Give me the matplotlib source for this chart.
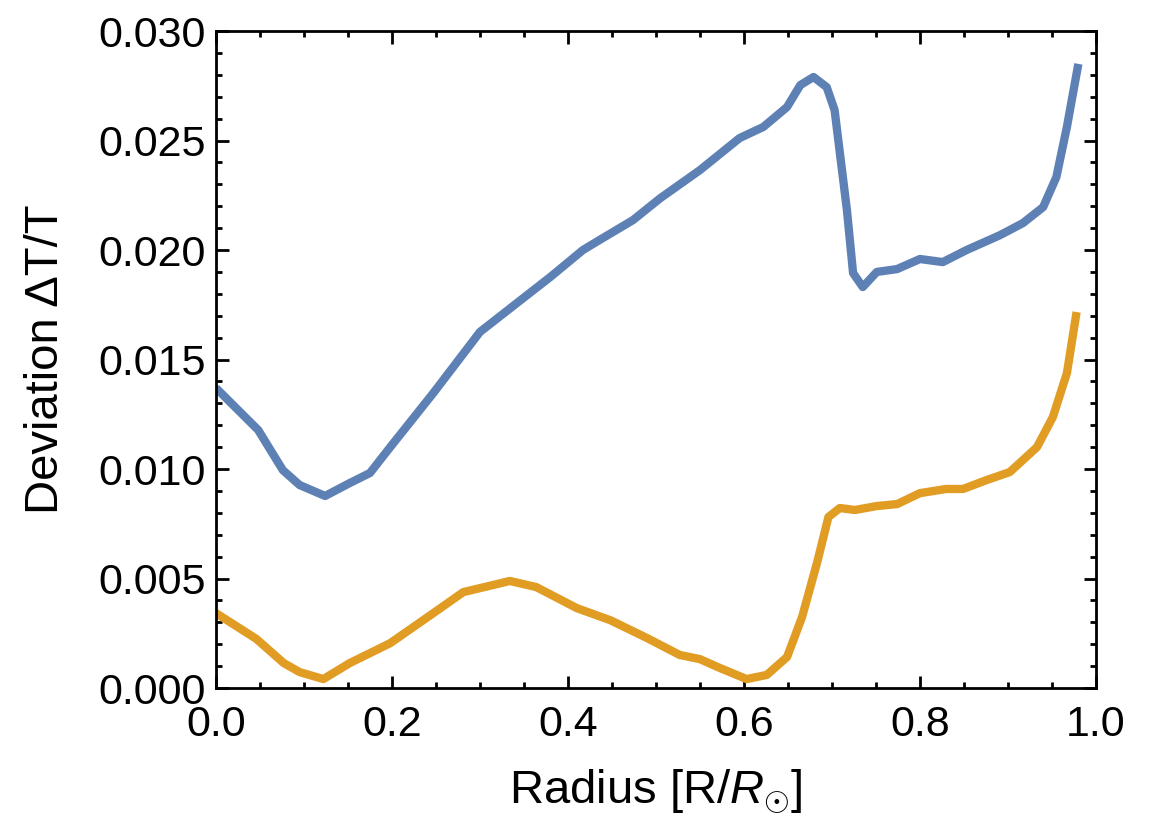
import numpy as np
import matplotlib
matplotlib.use('Agg')
import matplotlib.pyplot as plt
from matplotlib.ticker import MultipleLocator, FormatStrFormatter

# Blue curve (upper)
r_blue = [0.0, 0.048, 0.076, 0.095, 0.124, 0.152, 0.175, 0.198, 0.247, 0.30, 0.342, 0.38,
          0.417, 0.436, 0.474, 0.505, 0.55, 0.595, 0.622, 0.649, 0.664, 0.679, 0.694, 0.703,
          0.709, 0.717, 0.724, 0.735, 0.751, 0.774, 0.80, 0.826, 0.853, 0.891, 0.917, 0.94,
          0.955, 0.967, 0.98]
dev_blue = [0.0137, 0.01178, 0.00995, 0.00927, 0.00877, 0.00936, 0.00982, 0.0110, 0.01347,
            0.01626, 0.01758, 0.01877, 0.0200, 0.02046, 0.02137, 0.02237, 0.02365, 0.02511,
            0.02562, 0.02653, 0.02753, 0.0279, 0.02744, 0.02639, 0.02443, 0.02183, 0.01895,
            0.01831, 0.0190, 0.01913, 0.01959, 0.01945, 0.0200, 0.02068, 0.02123, 0.02196,
            0.02333, 0.02562, 0.0285]

# Orange curve (lower)
r_orange = [0.0, 0.046, 0.077, 0.095, 0.122, 0.152, 0.198, 0.247, 0.281, 0.334, 0.364, 0.41,
            0.448, 0.49, 0.527, 0.55, 0.573, 0.603, 0.626, 0.649, 0.666, 0.683, 0.696, 0.709,
            0.726, 0.751, 0.774, 0.80, 0.83, 0.849, 0.876, 0.902, 0.933, 0.951, 0.967, 0.978]
dev_orange = [0.00342, 0.00224, 0.00114, 0.00073, 0.00041, 0.00114, 0.00205, 0.00342, 0.00438,
              0.00489, 0.00461, 0.00365, 0.0031, 0.00228, 0.00151, 0.00132, 0.00091, 0.00041,
              0.0006, 0.00142, 0.00324, 0.00571, 0.00781, 0.00822, 0.00813, 0.00831, 0.0084,
              0.0089, 0.00909, 0.00909, 0.0095, 0.00986, 0.011, 0.01237, 0.01438, 0.01717]

plt.rcParams['font.family'] = ['Liberation Sans', 'DejaVu Sans']
plt.rcParams['mathtext.fontset'] = 'custom'
plt.rcParams['mathtext.rm'] = 'Liberation Sans'
plt.rcParams['mathtext.it'] = 'Liberation Sans:italic'

fig = plt.figure(figsize=(11.5, 8.25), dpi=100)
ax = fig.add_axes([0.1878, 0.166, 0.7652, 0.7964])

ax.plot(r_blue, dev_blue, color='#5E81B5', lw=6, solid_capstyle='butt', solid_joinstyle='round')
ax.plot(r_orange, dev_orange, color='#E19C24', lw=6, solid_capstyle='butt', solid_joinstyle='round')

ax.set_xlim(0, 1)
ax.set_ylim(0, 0.030)
ax.xaxis.set_major_locator(MultipleLocator(0.2))
ax.xaxis.set_minor_locator(MultipleLocator(0.05))
ax.yaxis.set_major_locator(MultipleLocator(0.005))
ax.yaxis.set_minor_locator(MultipleLocator(0.001))
ax.xaxis.set_major_formatter(FormatStrFormatter('%.1f'))
ax.yaxis.set_major_formatter(FormatStrFormatter('%.3f'))

ax.tick_params(which='both', direction='in', top=True, right=True, width=2, colors='black')
ax.tick_params(which='major', length=9, labelsize=31)
ax.tick_params(axis='x', which='major', pad=12)
ax.tick_params(axis='y', which='major', pad=7)
ax.tick_params(which='minor', length=4.5)
for s in ax.spines.values():
    s.set_linewidth(2)

ax.set_xlabel(r'Radius [R/$R_{\odot}$]', fontsize=34, labelpad=16)
ax.set_ylabel('Deviation ΔT/T', fontsize=34, labelpad=22)

fig.savefig('out.png', dpi=100)
